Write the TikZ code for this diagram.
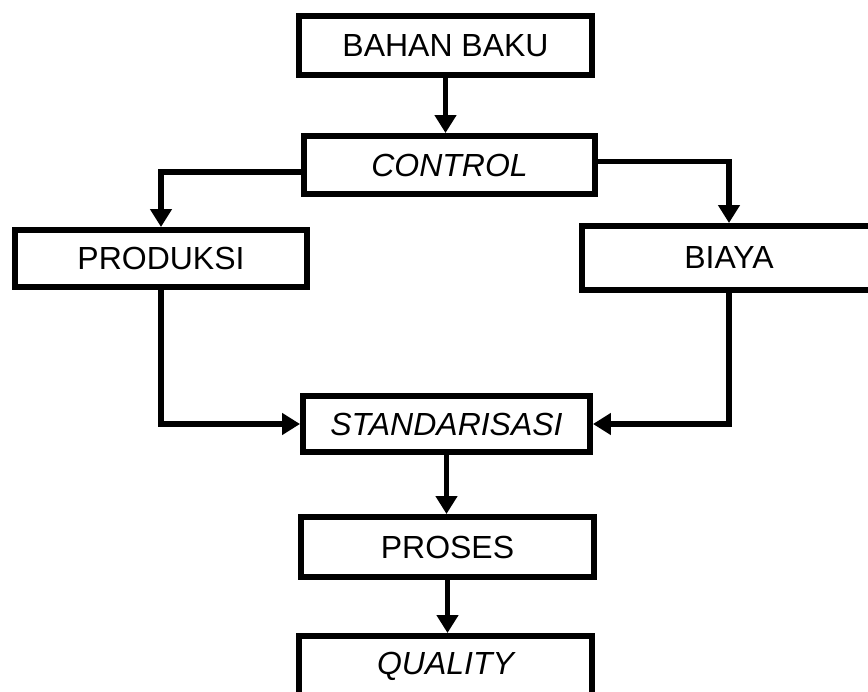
\documentclass[tikz,border=0pt]{standalone}
\usepackage{fontspec}
\setmainfont{Liberation Sans}
\usetikzlibrary{arrows.meta,calc}

\begin{document}
\begin{tikzpicture}[x=0.02cm,y=-0.02cm,
  box/.style={draw,line width=3.4pt,inner sep=0pt,minimum width=5.86cm,minimum height=1.18cm,font=\fontsize{18.2}{21}\selectfont},
  flow/.style={line width=3pt,-{Triangle[width=0.42cm,length=0.36cm]}}]
\useasboundingbox (0,0) rectangle (868,692);
\clip (0,0) rectangle (868,692);

% Boxes
\node[box] (bahan) at (445.5,45.5) {BAHAN BAKU};
\node[box,minimum width=5.82cm,minimum height=1.16cm] (control) at (449.5,165) {\itshape CONTROL};
\node[box,minimum width=5.84cm,minimum height=1.14cm] (produksi) at (161,258.5) {PRODUKSI};
\node[box,minimum width=5.88cm,minimum height=1.28cm] (biaya) at (729,258) {BIAYA};
\node[box,minimum width=5.74cm,minimum height=1.12cm] (standar) at (446.5,424) {\itshape STANDARISASI};
\node[box,minimum height=1.2cm] (proses) at (447.5,547) {PROSES};
\node[box,minimum height=1.2cm] (quality) at (445.5,666) {\itshape QUALITY};

% Arrows
\draw[flow] (bahan.south) -- (bahan.south |- control.north);
\draw[flow] ([yshift=-4]control.west) -| (produksi.north);
\draw[flow] ([yshift=2]control.east) -| (biaya.north);
\draw[flow] (produksi.south) |- (standar.west);
\draw[flow] (biaya.south) |- (standar.east);
\draw[flow] (standar.south) -- (standar.south |- proses.north);
\draw[flow] (proses.south) -- (proses.south |- quality.north);
\end{tikzpicture}
\end{document}
